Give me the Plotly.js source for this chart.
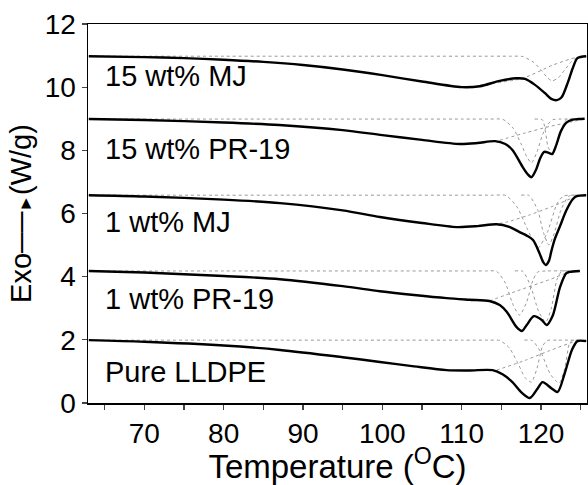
<!DOCTYPE html>
<html>
<head>
<meta charset="utf-8">
<script src="https://cdn.plot.ly/plotly-3.0.1.min.js"></script>
<style>html,body{margin:0;padding:0;background:#fff;}#chart{width:588px;height:485px;}</style>
</head>
<body>
<div id="chart"></div>
<script>
// Sample labels
const labels = ["15 wt% MJ", "15 wt% PR-19", "1 wt% MJ", "1 wt% PR-19", "Pure LLDPE"];
const labelY = [10.35, 8.04, 5.73, 3.29, 0.98];

// Solid DSC curves
const c1x = [63, 70, 75, 80, 85, 90, 95, 100, 105, 110, 112.3, 114.8, 116.9, 118, 119.2, 120.5, 121.3, 122, 122.6, 123.4, 124, 124.6, 125.7];
const c1y = [10.98, 10.95, 10.92, 10.87, 10.80, 10.70, 10.56, 10.38, 10.18, 10.0, 10.03, 10.2, 10.28, 10.26, 10.08, 9.81, 9.63, 9.59, 9.68, 10.16, 10.6, 10.92, 10.98];

const c2x = [63, 70, 80, 87, 95, 100, 105, 109.8, 112, 114.2, 115.5, 116.4, 117.7, 118.3, 118.8, 119.4, 119.9, 120.4, 120.9, 121.4, 121.9, 122.5, 123.2, 124.0, 124.7, 125.5];
const c2y = [8.99, 8.96, 8.88, 8.80, 8.64, 8.48, 8.33, 8.20, 8.23, 8.29, 8.20, 8.01, 7.47, 7.25, 7.15, 7.40, 7.75, 7.95, 7.93, 7.88, 8.15, 8.60, 8.88, 8.97, 8.99, 9.0];

const c3x = [63, 70, 80, 87.1, 95, 99.7, 105, 109.4, 112, 114.4, 116, 117.3, 118.2, 119, 119.8, 120.3, 120.6, 121, 121.3, 121.7, 122.4, 123.2, 124, 124.5, 125.7];
const c3y = [6.58, 6.54, 6.44, 6.33, 6.10, 5.89, 5.70, 5.57, 5.60, 5.66, 5.58, 5.41, 5.30, 5.16, 4.75, 4.45, 4.37, 4.50, 4.80, 5.16, 5.60, 6.10, 6.45, 6.55, 6.58];

const c4x = [63, 70, 80, 87.1, 95, 99.7, 104, 108.1, 111, 113.5, 114.8, 115.7, 116.9, 117.6, 118.2, 119.1, 120.1, 120.7, 121.5, 122.4, 123.2, 123.6, 124.9];
const c4y = [4.18, 4.13, 4.02, 3.92, 3.70, 3.54, 3.42, 3.32, 3.27, 3.23, 3.10, 2.88, 2.41, 2.28, 2.47, 2.75, 2.63, 2.47, 2.78, 3.67, 4.11, 4.15, 4.18];

const c5x = [63, 70, 80, 87.1, 95, 99.7, 104, 108.1, 111, 113.9, 115.2, 116.4, 117.6, 118.6, 119.6, 120.2, 121.3, 122.1, 123, 123.9, 124.6, 125.7];
const c5y = [1.99, 1.94, 1.82, 1.68, 1.45, 1.30, 1.16, 1.04, 1.03, 1.04, 0.90, 0.66, 0.32, 0.16, 0.47, 0.66, 0.47, 0.35, 0.95, 1.68, 1.96, 1.96];

// Deconvoluted peaks (dotted)
const p1ax = [63, 80, 100, 112, 116, 117.7, 119, 120, 120.8, 121.4, 122.2, 123, 123.8, 124.6, 125.2, 125.7];
const p1ay = [10.98, 10.98, 10.98, 10.98, 10.98, 10.97, 10.8, 10.55, 10.3, 10.2, 10.3, 10.55, 10.8, 10.95, 10.98, 10.98];
const s1x = [112.3, 117.7, 121.5, 124.5, 125.7];
const s1y = [10.06, 10.28, 10.70, 10.95, 10.98];

const p2ax = [63, 80, 100, 110, 113.5, 115.2, 116.5, 117.5, 118.2, 118.8, 119.5, 120.2, 120.8, 121.5, 122.5, 124, 125.5];
const p2ay = [8.99, 8.99, 8.99, 8.99, 8.99, 8.98, 8.7, 8.2, 7.8, 7.6, 7.95, 8.5, 8.8, 8.97, 8.99, 8.99, 8.99];
const p2bx = [119.2, 120.2, 120.9, 121.4, 122, 122.6, 123.2, 124.2];
const p2by = [8.99, 8.96, 8.1, 7.9, 8.2, 8.7, 8.97, 8.99];
const s2x = [114.8, 118, 121, 124.9, 125.5];
const s2y = [8.32, 8.55, 8.75, 8.96, 9.0];

const p3ax = [63, 80, 100, 110, 114, 115.6, 117, 118.3, 119.6, 120.8, 122, 122.8, 124, 125.7];
const p3ay = [6.58, 6.58, 6.58, 6.58, 6.58, 6.57, 6.2, 5.5, 4.9, 5.4, 6.3, 6.55, 6.58, 6.58];
const p3bx = [117.5, 118.5, 119.6, 120.3, 121, 121.7, 122.5, 123.5, 124.5];
const p3by = [6.58, 6.57, 6.1, 5.4, 5.0, 5.4, 6.1, 6.55, 6.58];
const s3x = [114, 115.7, 118.5, 121.5, 124.9, 125.7];
const s3y = [5.65, 5.73, 5.95, 6.23, 6.58, 6.58];

const p4ax = [63, 80, 100, 110, 113, 114.4, 115.5, 116.5, 117.3, 118.2, 119.0, 119.6, 120.6, 124.9];
const p4ay = [4.18, 4.18, 4.18, 4.18, 4.18, 4.17, 3.8, 3.1, 2.78, 3.2, 3.9, 4.15, 4.18, 4.18];
const p4bx = [116.7, 117.7, 118.7, 119.7, 120.6, 121.3, 122, 122.6, 123.6];
const p4by = [4.18, 4.17, 3.7, 2.9, 2.56, 3.0, 3.9, 4.17, 4.18];
const s4x = [113.5, 117, 121, 124, 124.9];
const s4y = [3.23, 3.55, 3.9, 4.18, 4.18];

const p5ax = [63, 80, 100, 110, 113.5, 114.8, 116, 117.2, 118, 118.8, 119.5, 120.2, 120.8, 122, 125.7];
const p5ay = [1.99, 1.99, 1.99, 1.99, 1.99, 1.98, 1.75, 1.2, 0.8, 0.66, 1.1, 1.8, 1.98, 1.99, 1.99];
const p5bx = [117.9, 118.9, 120, 121.2, 122.3, 123, 123.6, 124, 125];
const p5by = [1.99, 1.98, 1.6, 0.9, 0.63, 1.1, 1.9, 1.98, 1.99];
const s5x = [114.4, 118, 121, 124.5, 125.7];
const s5y = [1.04, 1.35, 1.65, 1.96, 1.96];

const tickVals = [70, 80, 90, 100, 110, 120];
const yTickVals = [0, 2, 4, 6, 8, 10, 12];

const dotted = (x, y) => ({x, y, type: 'scatter', mode: 'lines', line: {color: '#999', width: 1, dash: 'dot', shape: 'spline', smoothing: 0.6}, hoverinfo: 'skip', showlegend: false});
const solid = (x, y) => ({x, y, type: 'scatter', mode: 'lines', line: {color: '#000', width: 2.4, shape: 'spline', smoothing: 0.8}, showlegend: false});

const traces = [
  dotted(p1ax, p1ay), dotted(s1x, s1y),
  dotted(p2ax, p2ay), dotted(p2bx, p2by), dotted(s2x, s2y),
  dotted(p3ax, p3ay), dotted(p3bx, p3by), dotted(s3x, s3y),
  dotted(p4ax, p4ay), dotted(p4bx, p4by), dotted(s4x, s4y),
  dotted(p5ax, p5ay), dotted(p5bx, p5by), dotted(s5x, s5y),
  solid(c1x, c1y), solid(c2x, c2y), solid(c3x, c3y), solid(c4x, c4y), solid(c5x, c5y)
];

const annotations = labels.map((t, i) => ({
  x: 64.8, y: labelY[i], xref: 'x', yref: 'y', text: t, showarrow: false,
  xanchor: 'left', yanchor: 'middle', font: {family: 'Liberation Sans, Arial, sans-serif', size: 29, color: '#000'}
}));

const layout = {
  width: 588, height: 485,
  margin: {l: 88, r: 1, t: 24, b: 82},
  paper_bgcolor: '#fff', plot_bgcolor: '#fff',
  font: {family: 'Liberation Sans, Arial, sans-serif', color: '#000'},
  xaxis: {
    range: [62.9, 125.8], tickvals: tickVals, ticks: 'outside', ticklen: 5, tickwidth: 1.2,
    showline: true, linecolor: '#000', linewidth: 1.5, mirror: true, showgrid: false, zeroline: false,
    tickfont: {size: 28},
    minor: {dtick: 5, tick0: 65, ticks: 'outside', ticklen: 5, tickwidth: 1.2, showgrid: false},
    title: {text: 'Temperature (<sup>O</sup>C)', font: {size: 33}, standoff: 6}
  },
  yaxis: {
    range: [0, 12], tickvals: yTickVals, ticks: 'outside', ticklen: 5, tickwidth: 1.2,
    showline: true, linecolor: '#000', linewidth: 1.5, mirror: true, showgrid: false, zeroline: false,
    tickfont: {size: 28},
    title: {text: 'Exo\u2500\u2500<span style="font-size:17px">\u25BA</span>(W/g)', font: {size: 29}, standoff: 4}
  },
  annotations: annotations
};

Plotly.newPlot('chart', traces, layout, {displayModeBar: false, staticPlot: true});
</script>
</body>
</html>
